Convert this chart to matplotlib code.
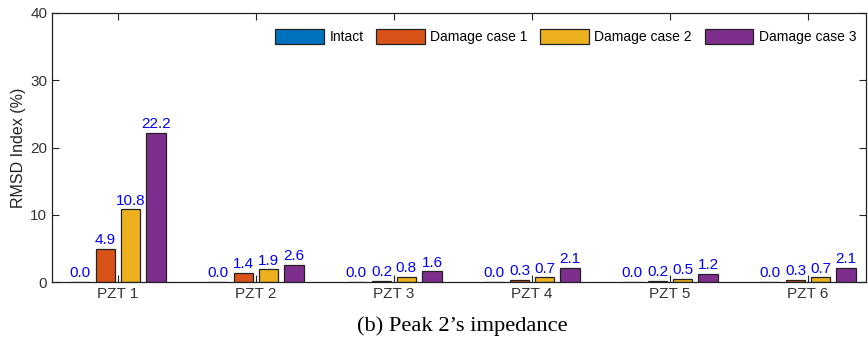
import matplotlib.pyplot as plt
import numpy as np

plt.rcParams['font.family'] = ['Liberation Sans', 'DejaVu Sans']

sensors = ['PZT 1', 'PZT 2', 'PZT 3', 'PZT 4', 'PZT 5', 'PZT 6']
series_names = ['Intact', 'Damage case 1', 'Damage case 2', 'Damage case 3']
intact = [0.0, 0.0, 0.0, 0.0, 0.0, 0.0]
damage1 = [4.9, 1.4, 0.2, 0.3, 0.2, 0.3]
damage2 = [10.8, 1.9, 0.8, 0.7, 0.5, 0.7]
damage3 = [22.2, 2.6, 1.6, 2.1, 1.2, 2.1]
colors = ['#0072BD', '#D95319', '#EDB120', '#7E2F8E']

fig = plt.figure(figsize=(8.68, 3.47), dpi=100)
ax = fig.add_axes([52 / 868, 1 - 282 / 347, 814 / 868, 269 / 347])

x = np.arange(len(sensors))
offsets = [-0.275, -0.09, 0.09, 0.275]
width = 0.14
for vals, off, c, name in zip([intact, damage1, damage2, damage3], offsets, colors, series_names):
    ax.bar(x + off, vals, width, color=c, edgecolor='#222222', linewidth=0.9, label=name)
    for xi, v in zip(x + off, vals):
        ax.text(xi, v + 0.25, f'{v:.1f}', ha='center', va='bottom', color='#0000FF', fontsize=11)

ax.set_xlim(-0.478, 5.42)
ax.set_ylim(0, 40)
ax.set_yticks([0, 10, 20, 30, 40])
ax.set_xticks(x)
ax.set_xticklabels(sensors)
ax.tick_params(direction='in', length=5, labelsize=11, colors='#222222', labelcolor='#333333',
               top=True, right=True)
ax.set_ylabel('RMSD Index (%)', fontsize=11.5, color='#222222', labelpad=3)
for s in ax.spines.values():
    s.set_color('#222222')
    s.set_linewidth(0.9)

ax.legend(loc='upper right', ncol=4, frameon=False, fontsize=10, handlelength=3.5,
          handleheight=1.2, handletextpad=0.4, columnspacing=0.9,
          bbox_to_anchor=(1.0, 0.975), borderaxespad=0.3)

fig.text(0.533, 1 - 331 / 347, '(b) Peak 2\u2019s impedance', ha='center', va='baseline',
         fontsize=16.2, family=['Liberation Serif', 'DejaVu Serif'])

fig.savefig('out.png', dpi=100)
